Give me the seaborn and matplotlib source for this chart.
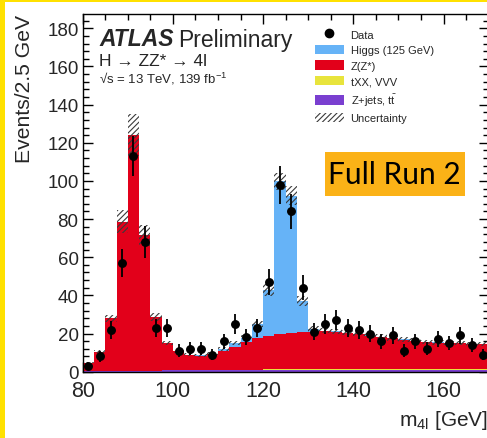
import numpy as np
import pandas as pd
import matplotlib
matplotlib.use("Agg")
import matplotlib.pyplot as plt
from matplotlib.patches import Patch, Rectangle
from matplotlib.lines import Line2D
from matplotlib.ticker import MultipleLocator
import seaborn as sns

# ---- four-lepton invariant mass spectrum, 2.5 GeV bins from 80 to 170 GeV ----
bin_edges = np.arange(80.0, 170.0 + 1e-9, 2.5)
bin_centers = 0.5 * (bin_edges[:-1] + bin_edges[1:])

data_counts = [3, 8, 22, 57, 113, 68, 23, 23, 11, 12, 12, 9, 16, 25, 18, 23, 47, 98,
               84, 44, 21, 25, 27, 23, 22, 20, 16, 19, 11, 16, 12, 17, 15, 19, 14, 9]

higgs = [0.0, 0.0, 0.0, 0.0, 0.0, 0.0, 0.0, 0.0, 0.05, 0.1, 0.15, 0.3, 0.9, 1.8, 2.5, 7.5, 24.0, 80.0,
         72.0, 16.5, 1.5, 0.5, 0.2, 0.1, 0.1, 0.1, 0.05, 0.05, 0.05, 0.05, 0.05, 0.05, 0.05, 0.05, 0.05, 0.05]

zz = [4.6, 10.1, 27.5, 78.1, 123.4, 70.9, 28.2, 14.2, 10.0, 8.0, 7.5, 8.2, 10.0, 12.0, 14.3, 16.4, 17.7, 18.6,
      19.1, 19.4, 19.7, 19.8, 19.6, 19.1, 18.5, 17.6, 16.8, 16.1, 15.4, 14.8, 14.2, 13.8, 13.5, 13.3, 13.1, 12.8]

txx_vvv = [0.01, 0.01, 0.01, 0.01, 0.01, 0.01, 0.01, 0.02, 0.03, 0.04, 0.05, 0.06, 0.07, 0.08, 0.09, 0.10, 0.11, 0.12,
           0.13, 0.15, 0.17, 0.19, 0.21, 0.23, 0.25, 0.27, 0.29, 0.31, 0.33, 0.35, 0.37, 0.39, 0.41, 0.43, 0.45, 0.47]

zjets_tt = [0.2, 0.3, 0.4, 0.5, 0.6, 0.6, 0.6, 0.7, 0.7, 0.8, 0.8, 0.9, 0.9, 1.0, 1.0, 1.0, 1.1, 1.1,
            1.1, 1.1, 1.1, 1.1, 1.1, 1.1, 1.1, 1.1, 1.1, 1.1, 1.1, 1.1, 1.1, 1.1, 1.1, 1.1, 1.1, 1.1]

# absolute half-width of the systematic band per bin
syst_halfwidth = [0.4, 0.8, 2.0, 6.0, 11.0, 5.5, 2.1, 1.1, 0.8, 0.7, 0.6, 0.7, 0.9, 1.1, 1.3, 1.7, 3.0, 4.5,
                  5.0, 2.6, 1.5, 1.5, 1.5, 1.5, 1.4, 1.4, 1.3, 1.3, 1.2, 1.2, 1.1, 1.1, 1.1, 1.0, 1.0, 1.0]

process_labels = ["Higgs (125 GeV)", "Z(Z*)", "tXX, VVV", r"Z+jets, t$\bar{\mathrm{t}}$"]
process_colors = ["#66B3F7", "#E2001A", "#E8E43C", "#7A3FD0"]

# ---- style ----
sns.set_style("ticks")
plt.rcParams["font.family"] = ["Liberation Sans", "DejaVu Sans"]
plt.rcParams["mathtext.fontset"] = "custom"
plt.rcParams["mathtext.rm"] = "Liberation Sans"
plt.rcParams["mathtext.it"] = "Liberation Sans:italic"
plt.rcParams["mathtext.bf"] = "Liberation Sans:bold"
plt.rcParams["hatch.linewidth"] = 0.8

fig = plt.figure(figsize=(4.87, 4.39), dpi=100)
fig.patch.set_facecolor("white")
ax = fig.add_axes([82.7 / 487, 66.3 / 439, (488.6 - 82.7) / 487, (424.0 - 66.3) / 439])

# ---- stacked expectation ----
frames = []
for label, values in zip(process_labels, [higgs, zz, txx_vvv, zjets_tt]):
    frames.append(pd.DataFrame({"m4l": bin_centers, "weight": values, "process": label}))
stack_df = pd.concat(frames, ignore_index=True)

sns.histplot(data=stack_df, x="m4l", weights="weight", hue="process",
             hue_order=process_labels, palette=dict(zip(process_labels, process_colors)),
             multiple="stack", bins=list(bin_edges), element="step", fill=True,
             alpha=1.0, linewidth=0, legend=False, ax=ax)

total = np.array(higgs) + np.array(zz) + np.array(txx_vvv) + np.array(zjets_tt)
unc = np.array(syst_halfwidth)
ax.stairs(total + unc, bin_edges, baseline=total - unc, fill=True, facecolor="none",
          edgecolor="#3a3a3a", linewidth=0, hatch="//////", zorder=3)

# ---- data ----
counts = np.array(data_counts, dtype=float)
ax.errorbar(bin_centers, counts, yerr=np.sqrt(counts), fmt="o", color="black",
            markersize=5.4, elinewidth=1.3, capsize=0, zorder=5)

# ---- axes ----
ax.set_xlim(80, 170)
ax.set_ylim(0, 187.5)
ax.xaxis.set_major_locator(MultipleLocator(20))
ax.xaxis.set_minor_locator(MultipleLocator(5))
ax.yaxis.set_major_locator(MultipleLocator(20))
ax.yaxis.set_minor_locator(MultipleLocator(4))
ax.tick_params(which="both", direction="in", top=True, right=True, width=1.0, color="black")
ax.tick_params(which="major", length=7.5)
ax.tick_params(which="minor", length=4)
ax.tick_params(axis="x", labelsize=15.5, pad=6)
ax.tick_params(axis="y", labelsize=13.5, pad=3)
for s in ax.spines.values():
    s.set_linewidth(1.0)
    s.set_color("black")
ax.set_xlabel("")
ax.set_ylabel("")

fig.text(25 / 487, 1 - 15 / 439, "Events/2.5 GeV", rotation=90, ha="center", va="top", fontsize=15.2)
fig.text(488 / 487, 1 - 421 / 439, r"m$_{\mathrm{4l}}$ [GeV]", ha="right", va="center", fontsize=15)

# ---- labels ----
fig.text(99 / 487, 1 - 40 / 439, "ATLAS", fontsize=16.5, fontweight="bold", fontstyle="italic", va="center")
fig.text(178 / 487, 1 - 40 / 439, "Preliminary", fontsize=16.5, va="center")
fig.text(99 / 487, 1 - 61 / 439, "H \u2192 ZZ* \u2192 4l", fontsize=12.5, va="center")
fig.text(99 / 487, 1 - 79 / 439, "\u221As = 13 TeV, 139 fb$^{-1}$", fontsize=9.5, va="center")

# ---- legend ----
handles = [Line2D([], [], marker="o", color="black", linestyle="none", markersize=6, label="Data")]
for label, color in zip(process_labels, process_colors):
    handles.append(Patch(facecolor=color, edgecolor="none", label=label))
handles.append(Patch(facecolor="white", edgecolor="#3a3a3a", linewidth=0, hatch="//////", label="Uncertainty"))
ax.legend(handles=handles, loc="upper left", bbox_to_anchor=(315 / 487, 1 - 30 / 439),
          bbox_transform=fig.transFigure, frameon=False, fontsize=8, borderpad=0,
          borderaxespad=0, handlelength=2.6, handleheight=0.95, handletextpad=0.6, labelspacing=0.45)

# ---- run banner ----
fig.patches.append(Rectangle((325 / 487, 1 - 197 / 439), 140 / 487, 44 / 439,
                             transform=fig.transFigure, facecolor="#FBB217", edgecolor="none", zorder=10))
fig.text(394 / 487, 1 - 175.5 / 439, "Full Run 2", fontsize=21.5, family=["Lato", "DejaVu Sans"],
         ha="center", va="center", color="black", zorder=11)

# ---- frame border ----
fig.patches.append(Rectangle((0, 0), 4.5 / 487, 1, transform=fig.transFigure,
                             facecolor="#FFE100", edgecolor="none", zorder=12))
fig.patches.append(Rectangle((0, 1 - 3 / 439), 1, 3 / 439, transform=fig.transFigure,
                             facecolor="#FFE100", edgecolor="none", zorder=12))

fig.savefig("out.png", dpi=100, facecolor="white")
